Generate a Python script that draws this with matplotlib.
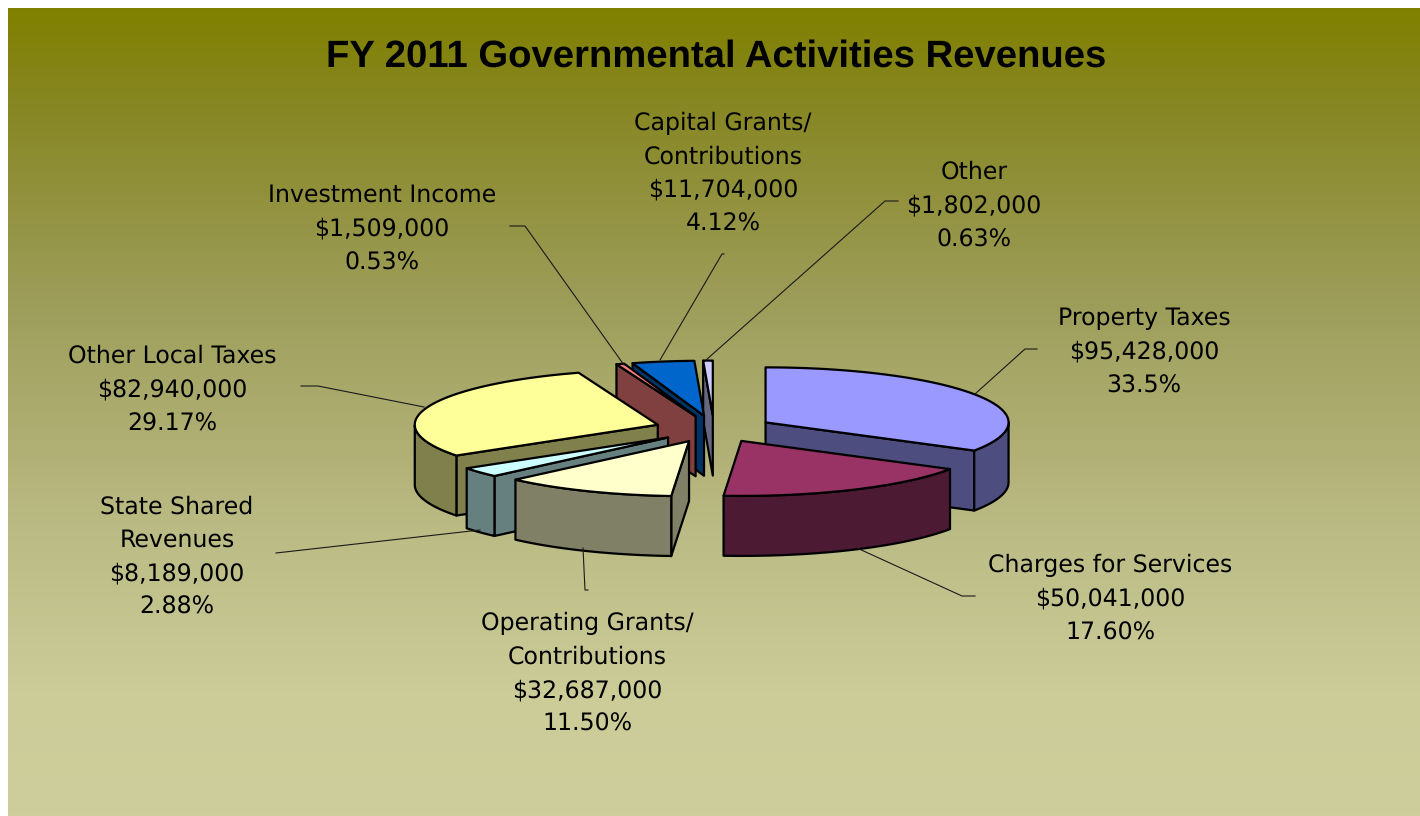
import numpy as np
import matplotlib
matplotlib.use('Agg')
import matplotlib.pyplot as plt
from matplotlib.colors import LinearSegmentedColormap
from matplotlib.patches import Polygon

plt.rcParams['text.hinting'] = 'none'

# ---- data ----
nomes = ['Property Taxes', 'Charges for Services', 'Operating Grants/\nContributions',
         'State Shared\nRevenues', 'Other Local Taxes', 'Investment Income',
         'Capital Grants/\nContributions', 'Other']
valores = [95428000, 50041000, 32687000, 8189000, 82940000, 1509000, 11704000, 1802000]
percentuais = ['33.5%', '17.60%', '11.50%', '2.88%', '29.17%', '0.53%', '4.12%', '0.63%']
cores_topo = ['#9999FF', '#993366', '#FFFFCC', '#CCFFFF', '#FFFF99', '#FF8080', '#0066CC', '#CCCCFF']
cores_lado = ['#4D4D80', '#4D1A33', '#808066', '#668080', '#80804D', '#804040', '#003366', '#666680']

# layout do pie, em pixels
cx, cy = 714, 429
rx, ry = 243, 55
altura = 60
explode = 0.244
fonte_rotulo = ['DejaVu Sans']

# posicao do centro de cada rotulo
pos_rotulos = [(1144, 352), (1110, 599), (587, 674), (177, 557), (172, 390), (382, 229), (723, 173.5), (974, 206)]
# linhas de chamada
linhas = [
    ([1037, 1025, 975], [349, 349, 394]),
    ([975, 962, 857], [596, 596, 548]),
    ([588, 585, 583], [590, 590, 548]),
    ([276, 480], [553, 530]),
    ([301, 318, 424], [386, 386, 407]),
    ([510, 525, 624], [226, 226, 365]),
    ([724, 722, 660], [254, 254, 360]),
    ([898, 885, 706], [201, 201, 360]),
]

fig = plt.figure(figsize=(14.2, 8.16), dpi=100)
ax = fig.add_axes([0, 0, 1, 1])
ax.axis('off')

# fundo em degrade
cmap = LinearSegmentedColormap.from_list('fundo', [(0, '#808000'), (0.12, '#878724'), (0.35, '#9C9C58'),
                                                   (0.65, '#BBBB85'), (0.85, '#CCCC99'), (1, '#CECE9C')])
grad = np.linspace(0, 1, 256).reshape(-1, 1)
ax.imshow(grad, cmap=cmap, extent=[8, 1420, 816, 8], aspect='auto', zorder=0)
ax.set_xlim(0, 1420)
ax.set_ylim(816, 0)

fracoes = np.array(valores) / sum(valores)
fim = np.cumsum(fracoes) * 2 * np.pi
ini = fim - fracoes * 2 * np.pi


def ponto(ox, oy, t):
    return ox + rx * np.sin(t), oy - ry * np.cos(t)


def desenha_fatia(a, b, topo, lado):
    meio = (a + b) / 2
    ox = cx + explode * rx * np.sin(meio)
    oy = cy - explode * ry * np.cos(meio)
    t = np.linspace(a, b, 80)
    x, y = ponto(ox, oy, t)

    # faces planas dos cortes, so as viradas para a frente
    for ang, normal in ((a, a - np.pi / 2), (b, b + np.pi / 2)):
        if np.cos(normal) < 0:
            px, py = ponto(ox, oy, ang)
            ax.add_patch(Polygon([(ox, oy), (px, py), (px, py + altura), (ox, oy + altura)],
                                 fc=lado, ec='black', lw=1.6, joinstyle='round', zorder=3))

    # parede externa, so a parte da frente
    frente = np.cos(t) < 0
    if frente.any():
        fx, fy = x[frente], y[frente]
        ax.add_patch(Polygon(np.r_[np.c_[fx, fy], np.c_[fx, fy + altura][::-1]],
                             fc=lado, ec='black', lw=1.6, joinstyle='round', zorder=3))

    # topo
    ax.add_patch(Polygon(np.r_[[(ox, oy)], np.c_[x, y]], fc=topo, ec='black', lw=1.6,
                         joinstyle='round', zorder=3))


# de tras para frente
ordem = [7, 6, 5, 0, 4, 3, 2, 1]
for i in ordem:
    desenha_fatia(ini[i], fim[i], cores_topo[i], cores_lado[i])

for lx, ly in linhas:
    ax.plot(lx, ly, color='#1a1a1a', lw=0.8, zorder=4)

for nome, valor, pct, (tx, ty) in zip(nomes, valores, percentuais, pos_rotulos):
    ax.text(tx, ty, f'{nome}\n\\${valor:,}\n{pct}', ha='center', va='center', fontsize=17,
            family=fonte_rotulo, color='black', linespacing=1.57, zorder=5)

ax.text(716, 57, 'FY 2011 Governmental Activities Revenues', ha='center', va='center',
        fontsize=27.5, fontweight='bold', family='Liberation Sans', color='black', zorder=5)

fig.savefig('out.png', dpi=100)
